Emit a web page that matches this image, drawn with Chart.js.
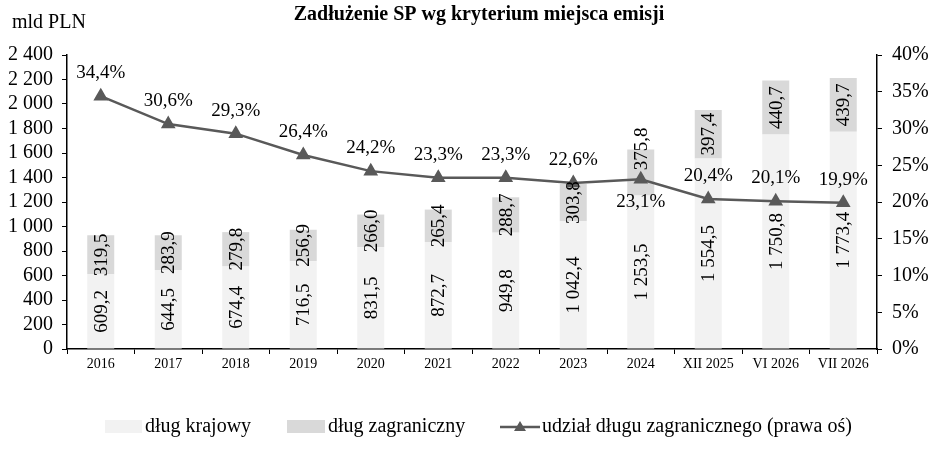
<!DOCTYPE html>
<html>
<head>
<meta charset="utf-8">
<script src="https://cdn.jsdelivr.net/npm/chart.js@4/dist/chart.umd.min.js"></script>
<style>
  html, body { margin: 0; padding: 0; background: #fff; }
  #wrap { width: 942px; height: 455px; }
</style>
</head>
<body>
<div id="wrap"><canvas id="chart"></canvas></div>
<script>
// data
const categories = ['2016', '2017', '2018', '2019', '2020', '2021', '2022', '2023', '2024', 'XII 2025', 'VI 2026', 'VII 2026'];
const domesticDebt = [609.2, 644.5, 674.4, 716.5, 831.5, 872.7, 949.8, 1042.4, 1253.5, 1554.5, 1750.8, 1773.4];
const foreignDebt = [319.5, 283.9, 279.8, 256.9, 266.0, 265.4, 288.7, 303.8, 375.8, 397.4, 440.7, 439.7];
const foreignShare = [34.4, 30.6, 29.3, 26.4, 24.2, 23.3, 23.3, 22.6, 23.1, 20.4, 20.1, 19.9];
const labelBelow = ['2024'];   // share labels drawn under the point

const serif = '"Liberation Serif", "Times New Roman", serif';

// polish number format: "1 042,4"
function plNum(v, dec) {
    var s = v.toFixed(dec).split('.');
    var int = s[0].replace(/\B(?=(\d{3})+(?!\d))/g, ' ');
    return s.length > 1 ? int + ',' + s[1] : int;
}

var labelsPlugin = {
    id: 'labels',
    afterDatasetsDraw: function(chart) {
        var ctx = chart.ctx;
        var lm = chart.getDatasetMeta(2);
        ctx.save();
        ctx.fillStyle = '#000';
        ctx.font = '19px ' + serif;
        // bar values, vertical
        [0, 1].forEach(function(di) {
            var meta = chart.getDatasetMeta(di);
            var vals = chart.data.datasets[di].data;
            meta.data.forEach(function(el, i) {
                var txt = plNum(vals[i], 1);
                var cy = (el.y + el.base) / 2;
                var py = lm.data[i].y;
                // foreign label pushed above the line if the point sits in its segment
                if (di === 1 && py > el.y && py < el.base) {
                    cy = py - 9 - ctx.measureText(txt).width / 2;
                }
                ctx.save();
                ctx.translate(el.x, cy);
                ctx.rotate(-Math.PI / 2);
                ctx.textAlign = 'center';
                ctx.textBaseline = 'middle';
                ctx.fillText(txt, 0, 1);
                ctx.restore();
            });
        });
        // share labels
        ctx.textAlign = 'center';
        ctx.textBaseline = 'alphabetic';
        lm.data.forEach(function(pt, i) {
            var txt = plNum(foreignShare[i], 1) + '%';
            var below = labelBelow.indexOf(categories[i]) >= 0;
            ctx.fillText(txt, pt.x, below ? pt.y + 28 : pt.y - 18);
        });
        ctx.restore();
    },
    afterDraw: function(chart) {
        var ctx = chart.ctx;
        ctx.save();
        ctx.fillStyle = '#000';
        ctx.textBaseline = 'middle';
        ctx.textAlign = 'center';
        ctx.font = 'bold 20px ' + serif;
        ctx.fillText('Zadłużenie SP wg kryterium miejsca emisji', 479, 15);
        ctx.textAlign = 'left';
        ctx.font = '20px ' + serif;
        ctx.fillText('mld PLN', 12, 23);

        // legend
        var ly = 427;
        ctx.fillStyle = '#f2f2f2';
        ctx.fillRect(105, ly - 7, 37, 13);
        ctx.fillStyle = '#d9d9d9';
        ctx.fillRect(287, ly - 7, 38, 13);
        ctx.strokeStyle = '#595959';
        ctx.lineWidth = 2.5;
        ctx.beginPath();
        ctx.moveTo(500, ly);
        ctx.lineTo(540, ly);
        ctx.stroke();
        ctx.fillStyle = '#595959';
        ctx.beginPath();
        ctx.moveTo(520, ly - 6);
        ctx.lineTo(526, ly + 4);
        ctx.lineTo(514, ly + 4);
        ctx.closePath();
        ctx.fill();
        ctx.fillStyle = '#000';
        ctx.font = '20px ' + serif;
        ctx.fillText('dług krajowy', 145, ly);
        ctx.fillText('dług zagraniczny', 328, ly);
        ctx.fillText('udział długu zagranicznego (prawa oś)', 542, ly);
        ctx.restore();
    }
};

new Chart(document.getElementById('chart'), {
    type: 'bar',
    data: {
        labels: categories,
        datasets: [{
            label: 'dług krajowy',
            data: domesticDebt,
            backgroundColor: '#f2f2f2',
            stack: 'debt',
            order: 1
        }, {
            label: 'dług zagraniczny',
            data: foreignDebt,
            backgroundColor: '#d9d9d9',
            stack: 'debt',
            order: 1
        }, {
            type: 'line',
            label: 'udział długu zagranicznego (prawa oś)',
            data: foreignShare,
            yAxisID: 'y1',
            borderColor: '#595959',
            borderWidth: 2.5,
            pointStyle: 'triangle',
            pointRadius: 6,
            pointBackgroundColor: '#595959',
            pointBorderColor: '#595959',
            tension: 0,
            order: 0
        }]
    },
    options: {
        responsive: true,
        maintainAspectRatio: false,
        animation: false,
        datasets: {
            bar: { categoryPercentage: 1, barPercentage: 0.4 }
        },
        layout: { padding: { top: 55, left: 0, right: 0, bottom: 0 } },
        plugins: {
            legend: { display: false },
            tooltip: { enabled: false },
            title: { display: false }
        },
        scales: {
            x: {
                stacked: true,
                grid: { display: true, drawOnChartArea: false, offset: true, color: '#000', tickLength: 5, tickWidth: 1 },
                border: { display: true, color: '#000', width: 1.5 },
                ticks: { color: '#000', font: { family: serif, size: 14 }, padding: 2, maxRotation: 0, autoSkip: false },
                afterFit: function(s) { s.height = 106; }
            },
            y: {
                stacked: true,
                min: 0,
                max: 2400,
                grid: { display: true, drawOnChartArea: false, color: '#000', tickLength: 5 },
                border: { display: true, color: '#000', width: 1.5 },
                ticks: {
                    stepSize: 200,
                    autoSkip: false,
                    color: '#000',
                    padding: 9,
                    font: { family: serif, size: 20 },
                    callback: function(v) { return plNum(v, 0); }
                },
                afterFit: function(s) { s.width = 67; }
            },
            y1: {
                position: 'right',
                min: 0,
                max: 40,
                grid: { display: true, drawOnChartArea: false, color: '#000', tickLength: 5 },
                border: { display: true, color: '#000', width: 1.5 },
                ticks: {
                    stepSize: 5,
                    autoSkip: false,
                    color: '#000',
                    padding: 10,
                    font: { family: serif, size: 20 },
                    callback: function(v) { return v + '%'; }
                },
                afterFit: function(s) { s.width = 65; }
            }
        }
    },
    plugins: [labelsPlugin]
});
</script>
</body>
</html>
